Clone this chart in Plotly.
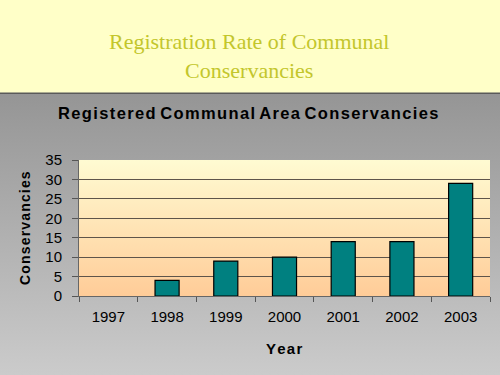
import base64
import plotly.graph_objects as go

years = ["1997", "1998", "1999", "2000", "2001", "2002", "2003"]
counts = [0, 4, 9, 10, 14, 14, 29]
y_tick_values = [0, 5, 10, 15, 20, 25, 30, 35]

W, H = 500, 375
L, R, T, B = 79, 10, 160, 79
PW, PH = W - L - R, H - T - B

HS = "\u200a"  # hair space for letter spacing


def spaced(s):
    return HS.join(list(s))


def px(x):
    return (x - L) / PW


def py(y):
    return 1 - (y - T) / PH


def svg_uri(svg):
    return "data:image/svg+xml;base64," + base64.b64encode(svg.encode()).decode()


page_svg = f'''<svg xmlns="http://www.w3.org/2000/svg" width="{W}" height="{H}" viewBox="0 0 {W} {H}" preserveAspectRatio="none">
<defs><linearGradient id="g" x1="0" y1="0" x2="0" y2="1">
<stop offset="0" stop-color="#959595"/><stop offset="1" stop-color="#cbcbcb"/></linearGradient></defs>
<rect x="0" y="93" width="{W}" height="{H-93}" fill="url(#g)"/>
<rect x="0" y="0" width="{W}" height="93" fill="#ffffc8"/>
<rect x="0" y="92.5" width="{W}" height="1.5" fill="#5a5a5a"/>
</svg>'''

plot_svg = '''<svg xmlns="http://www.w3.org/2000/svg" width="100" height="100" viewBox="0 0 100 100" preserveAspectRatio="none">
<defs><linearGradient id="p" x1="0" y1="0" x2="0" y2="1">
<stop offset="0" stop-color="#fffbd2"/><stop offset="1" stop-color="#ffcc98"/></linearGradient></defs>
<rect x="0" y="0" width="100" height="100" fill="url(#p)"/>
</svg>'''

fig = go.Figure()
fig.add_trace(go.Bar(
    x=years, y=counts,
    marker=dict(color="#008080",
                line=dict(color="#000000", width=[0 if v == 0 else 1.2 for v in counts])),
    hoverinfo="skip",
))

sans = "Liberation Sans, Arial, sans-serif"

fig.update_layout(
    width=W, height=H,
    margin=dict(l=L, r=R, t=T, b=B),
    paper_bgcolor="rgba(0,0,0,0)",
    plot_bgcolor="rgba(0,0,0,0)",
    showlegend=False,
    bargap=0.59,
    font=dict(family=sans, color="#000000", size=15),
    images=[
        dict(source=svg_uri(page_svg), xref="paper", yref="paper",
             x=px(0), y=py(0), sizex=W / PW, sizey=H / PH,
             xanchor="left", yanchor="top", sizing="stretch", layer="below"),
        dict(source=svg_uri(plot_svg), xref="paper", yref="paper",
             x=0, y=1, sizex=1, sizey=1,
             xanchor="left", yanchor="top", sizing="stretch", layer="below"),
    ],
    xaxis=dict(
        type="category",
        tickson="boundaries",
        ticks="outside", ticklen=5, tickcolor="#555555", tickwidth=1,
        showline=True, linecolor="#666666", linewidth=1,
        showgrid=False,
        tickfont=dict(size=15, family=sans),
        ticklabelstandoff=7,
    ),
    yaxis=dict(
        range=[0, 35],
        tickvals=y_tick_values,
        ticks="outside", ticklen=6, tickcolor="#555555", tickwidth=1,
        showline=True, linecolor="#666666", linewidth=1,
        showgrid=True, gridcolor="#5e544a", gridwidth=1,
        zeroline=False,
        tickfont=dict(size=15, family=sans),
        ticklabelstandoff=7,
    ),
    annotations=[
        dict(text="Registration Rate of Communal<br>Conservancies",
             x=px(249), y=py(56), xref="paper", yref="paper",
             xanchor="center", yanchor="middle", showarrow=False,
             font=dict(family="Liberation Serif, Times New Roman, serif", size=22, color="#c3c62c")),
        dict(text=spaced("Registered") + " " + spaced("Communal") + " " + spaced("Area") + " " + spaced("Conservancies"),
             x=px(248), y=py(113), xref="paper", yref="paper",
             xanchor="center", yanchor="middle", showarrow=False,
             font=dict(family=sans, size=16.5, color="#000000", weight="bold")),
        dict(text=spaced("Conservancies"),
             x=px(25), y=py(228), xref="paper", yref="paper",
             xanchor="center", yanchor="middle", showarrow=False, textangle=-90,
             font=dict(family=sans, size=14, color="#000000", weight="bold")),
        dict(text=spaced("Year"),
             x=px(284), y=py(348), xref="paper", yref="paper",
             xanchor="center", yanchor="middle", showarrow=False,
             font=dict(family=sans, size=15, color="#000000", weight="bold")),
    ],
)

fig.write_html("out.html", config={"displayModeBar": False},
               post_script="document.body.style.margin='0';")
